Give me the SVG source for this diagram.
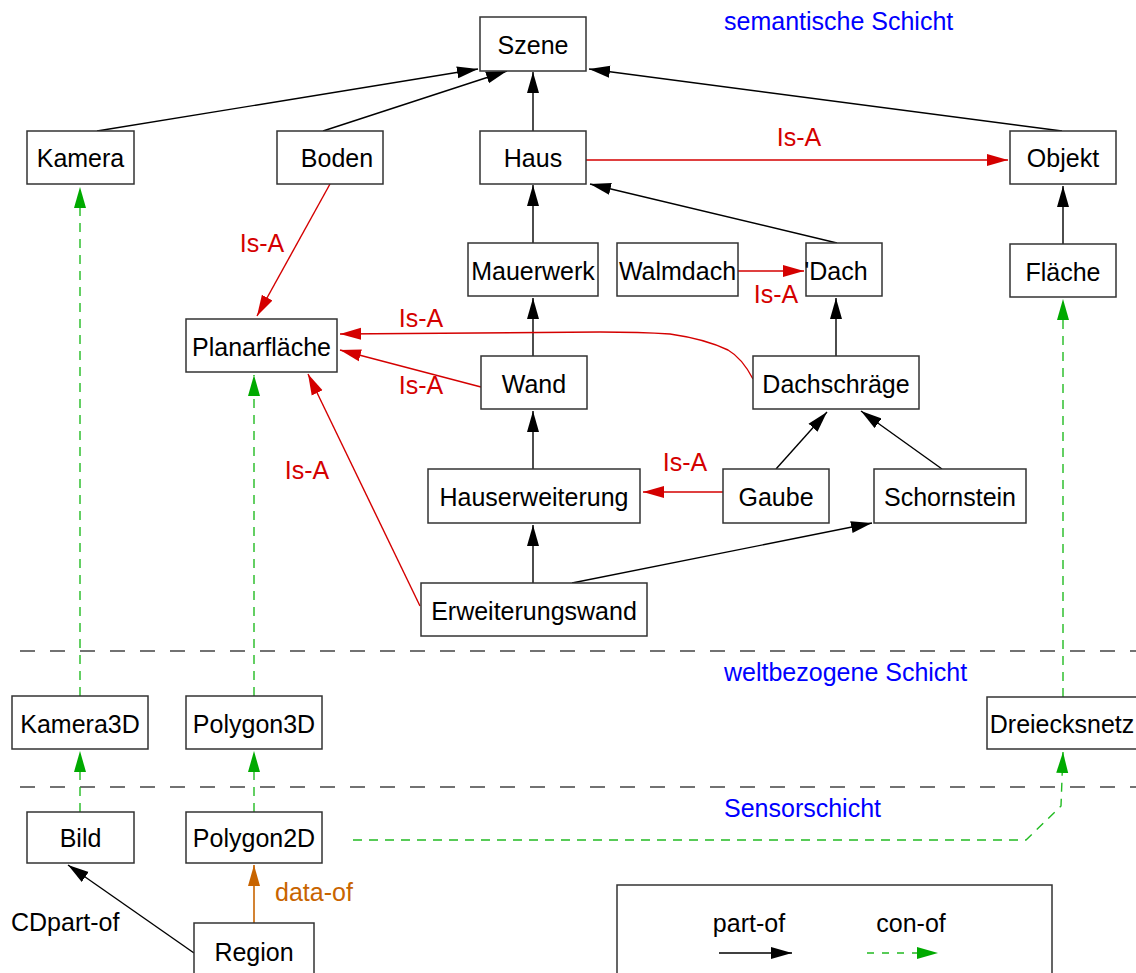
<svg xmlns="http://www.w3.org/2000/svg" width="1136" height="973" viewBox="0 0 1136 973">
<style>
text{font-family:"Liberation Sans",Arial,sans-serif;font-size:25px}
.n rect{fill:#fff;stroke:#333;stroke-width:1.5}
.n text{fill:#000;text-anchor:middle}
.blk{stroke:#000;stroke-width:1.4;fill:none}
.red{stroke:#d40000;stroke-width:1.4;fill:none}
.grn{stroke:#22bb22;stroke-width:1.4;fill:none;stroke-dasharray:9 7}
.org{stroke:#c86400;stroke-width:1.6;fill:none}
.sep{stroke:#444;stroke-width:1.5;stroke-dasharray:15 15}
.lr{fill:#d40000}
.lb{fill:#0000ff}
</style>
<defs>
<marker id="ab" markerUnits="userSpaceOnUse" markerWidth="22" markerHeight="13" refX="21" refY="6.5" orient="auto"><path d="M0,0.5 L21,6.5 L0,12.5z" fill="#000"/></marker>
<marker id="ar" markerUnits="userSpaceOnUse" markerWidth="22" markerHeight="13" refX="21" refY="6.5" orient="auto"><path d="M0,0.5 L21,6.5 L0,12.5z" fill="#d40000"/></marker>
<marker id="ag" markerUnits="userSpaceOnUse" markerWidth="22" markerHeight="13" refX="21" refY="6.5" orient="auto"><path d="M0,0.5 L21,6.5 L0,12.5z" fill="#00aa00"/></marker>
<marker id="ao" markerUnits="userSpaceOnUse" markerWidth="22" markerHeight="13" refX="21" refY="6.5" orient="auto"><path d="M0,0.5 L21,6.5 L0,12.5z" fill="#c86400"/></marker>
</defs>

<g id="layers">
<line class="sep" x1="20" y1="651" x2="1136" y2="651"/>
<line class="sep" x1="20" y1="787" x2="1136" y2="787"/>
<text class="lb" x="724" y="30">semantische Schicht</text>
<text class="lb" x="724" y="681">weltbezogene Schicht</text>
<text class="lb" x="724" y="817">Sensorschicht</text>
</g>

<g id="connectors">
<line class="blk" x1="97" y1="131" x2="478" y2="69" marker-end="url(#ab)"/>
<line class="blk" x1="323" y1="131" x2="507" y2="71" marker-end="url(#ab)"/>
<line class="blk" x1="533" y1="131" x2="533" y2="72" marker-end="url(#ab)"/>
<line class="blk" x1="1062" y1="131" x2="589" y2="69" marker-end="url(#ab)"/>
<line class="red" x1="586" y1="160" x2="1008" y2="160" marker-end="url(#ar)"/>
<text class="lr" x="799" y="146" text-anchor="middle">Is-A</text>
<line class="blk" x1="533" y1="243" x2="533" y2="185" marker-end="url(#ab)"/>
<line class="blk" x1="837" y1="243" x2="590" y2="184" marker-end="url(#ab)"/>
<line class="blk" x1="1063" y1="244" x2="1063" y2="186" marker-end="url(#ab)"/>
<line class="red" x1="738" y1="271" x2="804" y2="271" marker-end="url(#ar)"/>
<text class="lr" x="776" y="303" text-anchor="middle">Is-A</text>
<line class="red" x1="330" y1="184" x2="257" y2="316" marker-end="url(#ar)"/>
<text class="lr" x="262" y="252" text-anchor="middle">Is-A</text>
<line class="blk" x1="533" y1="356" x2="533" y2="298" marker-end="url(#ab)"/>
<line class="blk" x1="836" y1="356" x2="836" y2="298" marker-end="url(#ab)"/>
<line class="red" x1="481" y1="387" x2="340" y2="350" marker-end="url(#ar)"/>
<text class="lr" x="421" y="394" text-anchor="middle">Is-A</text>
<path class="red" d="M753,379 Q742,358 728,350 Q705,339 670,334 Q640,332 600,332 L340,334" marker-end="url(#ar)"/>
<text class="lr" x="421" y="327" text-anchor="middle">Is-A</text>
<line class="blk" x1="533" y1="469" x2="533" y2="411" marker-end="url(#ab)"/>
<line class="blk" x1="776" y1="469" x2="827" y2="412" marker-end="url(#ab)"/>
<line class="blk" x1="942" y1="469" x2="861" y2="411" marker-end="url(#ab)"/>
<line class="red" x1="723" y1="492" x2="643" y2="492" marker-end="url(#ar)"/>
<text class="lr" x="685" y="471" text-anchor="middle">Is-A</text>
<line class="blk" x1="533" y1="583" x2="533" y2="525" marker-end="url(#ab)"/>
<line class="blk" x1="572" y1="583" x2="872" y2="523" marker-end="url(#ab)"/>
<line class="red" x1="420" y1="606" x2="308" y2="374" marker-end="url(#ar)"/>
<text class="lr" x="307" y="479" text-anchor="middle">Is-A</text>
<line class="grn" x1="80" y1="696" x2="80" y2="187" marker-end="url(#ag)"/>
<line class="grn" x1="254" y1="696" x2="254" y2="375" marker-end="url(#ag)"/>
<line class="grn" x1="1063" y1="697" x2="1063" y2="299" marker-end="url(#ag)"/>
<line class="grn" x1="80" y1="812" x2="80" y2="751" marker-end="url(#ag)"/>
<line class="grn" x1="254" y1="812" x2="254" y2="751" marker-end="url(#ag)"/>
<path class="grn" d="M353,840 L1026,840 L1061,806 L1063,752" marker-end="url(#ag)"/>
<line class="blk" x1="194" y1="953" x2="68" y2="865" marker-end="url(#ab)"/>
<text x="11" y="931">CDpart-of</text>
<line class="org" x1="254" y1="923" x2="254" y2="865" marker-end="url(#ao)"/>
<text x="275" y="901" fill="#c86400">data-of</text>
</g>

<g id="n-szene" class="n"><rect x="480" y="17" width="106" height="54"/><text x="533" y="54">Szene</text></g>
<g id="n-kamera" class="n"><rect x="27" y="131" width="107" height="53"/><text x="80.5" y="167">Kamera</text></g>
<g id="n-boden" class="n"><rect x="277" y="131" width="106" height="53"/><text x="337" y="167">Boden</text></g>
<g id="n-haus" class="n"><rect x="480" y="131" width="106" height="53"/><text x="533" y="167">Haus</text></g>
<g id="n-objekt" class="n"><rect x="1010" y="131" width="106" height="53"/><text x="1063" y="167">Objekt</text></g>
<g id="n-mauerwerk" class="n"><rect x="468" y="243" width="130" height="53"/><text x="533" y="280">Mauerwerk</text></g>
<g id="n-walmdach" class="n"><rect x="617" y="243" width="121" height="53"/><text x="677.5" y="280">Walmdach</text></g>
<g id="n-dach" class="n"><rect x="806" y="243" width="76" height="53"/><text x="836" y="280">'Dach</text></g>
<g id="n-flaeche" class="n"><rect x="1010" y="244" width="106" height="53"/><text x="1063" y="281">Fläche</text></g>
<g id="n-planarflaeche" class="n"><rect x="186" y="319" width="151" height="53"/><text x="261.5" y="356">Planarfläche</text></g>
<g id="n-wand" class="n"><rect x="481" y="356" width="106" height="53"/><text x="534" y="393">Wand</text></g>
<g id="n-dachschraege" class="n"><rect x="753" y="356" width="166" height="53"/><text x="836" y="393">Dachschräge</text></g>
<g id="n-hauserweiterung" class="n"><rect x="428" y="469" width="212" height="54"/><text x="534" y="506">Hauserweiterung</text></g>
<g id="n-gaube" class="n"><rect x="723" y="469" width="106" height="54"/><text x="776" y="506">Gaube</text></g>
<g id="n-schornstein" class="n"><rect x="874" y="469" width="152" height="54"/><text x="950" y="506">Schornstein</text></g>
<g id="n-erweiterungswand" class="n"><rect x="421" y="583" width="226" height="53"/><text x="534" y="620">Erweiterungswand</text></g>
<g id="n-kamera3d" class="n"><rect x="12" y="696" width="136" height="53"/><text x="80" y="733">Kamera3D</text></g>
<g id="n-polygon3d" class="n"><rect x="186" y="696" width="136" height="53"/><text x="254" y="733">Polygon3D</text></g>
<g id="n-dreiecksnetz" class="n"><rect x="987" y="697" width="160" height="52"/><text x="1062" y="733">Dreiecksnetz</text></g>
<g id="n-bild" class="n"><rect x="27" y="812" width="107" height="51"/><text x="80.5" y="847">Bild</text></g>
<g id="n-polygon2d" class="n"><rect x="186" y="812" width="136" height="51"/><text x="254" y="847">Polygon2D</text></g>
<g id="n-region" class="n"><rect x="194" y="923" width="120" height="70"/><text x="254" y="961">Region</text></g>

<g id="legend">
<rect x="617" y="885" width="435" height="100" fill="#fff" stroke="#333" stroke-width="1.5"/>
<text x="749" y="932" text-anchor="middle">part-of</text>
<line class="blk" x1="719" y1="953" x2="792" y2="953" marker-end="url(#ab)"/>
<text x="911" y="932" text-anchor="middle">con-of</text>
<line class="grn" x1="867" y1="953" x2="938" y2="953" style="stroke-dasharray:7 8" marker-end="url(#ag)"/>
</g>
</svg>
